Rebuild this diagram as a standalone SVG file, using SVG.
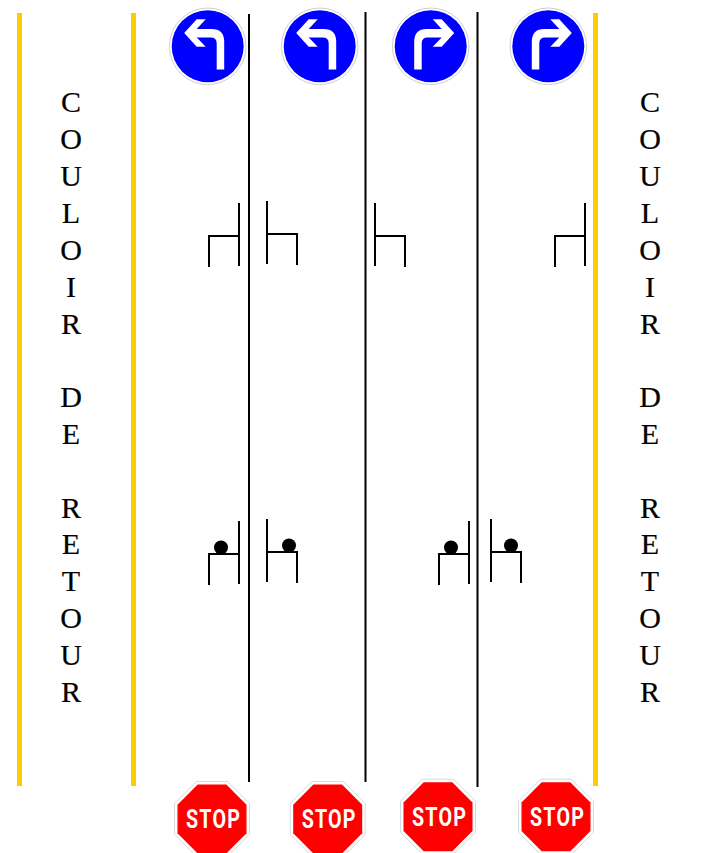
<svg xmlns="http://www.w3.org/2000/svg" xmlns:xlink="http://www.w3.org/1999/xlink" width="701" height="853" viewBox="0 0 701 853">
<style>
.lane{fill:none;stroke:#000;stroke-width:2}
.corridor{fill:#ffcc00}
.chair{fill:none;stroke:#000;stroke-width:2}
.label{font-family:"Liberation Serif","Times New Roman",serif;font-size:30px;fill:#000;text-anchor:middle;stroke:#000;stroke-width:0.2}
.stoptxt{font-family:Roboto,"Liberation Sans",Arial,sans-serif;font-size:25px;font-weight:700;fill:#fff}
</style>
<defs>
<g id="sign-left">
<circle r="38.3" fill="#fff" stroke="#cfcfcf" stroke-width="1"/>
<circle r="36" fill="#0000ff"/>
<path d="M-23.5,-13.3L-11,-27H-2L-11,-17.3H4Q16.5,-17.3 16.5,-4.5V23.3H9V-3Q9,-8.8 3,-8.8H-11L-2,0.4H-11Z" fill="#fff"/>
</g>
<g id="sign-stop">
<polygon points="-15.6,-37.5 15.6,-37.5 37.5,-15.6 37.5,15.6 15.6,37.5 -15.6,37.5 -37.5,15.6 -37.5,-15.6" fill="#fff" stroke="#d4dce0" stroke-width="1"/>
<polygon points="-14.3,-34.5 14.3,-34.5 34.5,-14.3 34.5,14.3 14.3,34.5 -14.3,34.5 -34.5,14.3 -34.5,-14.3" fill="#ff0000"/>
<text class="stoptxt" x="-26" y="9" textLength="55" lengthAdjust="spacingAndGlyphs" letter-spacing="1.5">STOP</text>
</g>
</defs>
<g id="corridor-lines">
<rect class="corridor" x="17" y="13" width="5" height="773"/>
<rect class="corridor" x="131" y="13" width="5" height="773"/>
<rect class="corridor" x="593" y="13" width="5" height="773"/>
</g>
<g id="connectors">
<path class="lane" d="M249,14V782"/>
<path class="lane" d="M365.5,12V782"/>
<path class="lane" d="M477.5,12V787"/>
</g>
<g id="sign-1"><use xlink:href="#sign-left" href="#sign-left" transform="translate(207.7,46.3)"/></g>
<g id="sign-2"><use xlink:href="#sign-left" href="#sign-left" transform="translate(319.7,46.3)"/></g>
<g id="sign-3"><use xlink:href="#sign-left" href="#sign-left" transform="translate(430.7,46.3) scale(-1,1)"/></g>
<g id="sign-4"><use xlink:href="#sign-left" href="#sign-left" transform="translate(548.3,46.3) scale(-1,1)"/></g>
<g id="stop-1"><use xlink:href="#sign-stop" href="#sign-stop" transform="translate(212,819)"/></g>
<g id="stop-2"><use xlink:href="#sign-stop" href="#sign-stop" transform="translate(327.7,819)"/></g>
<g id="stop-3"><use xlink:href="#sign-stop" href="#sign-stop" transform="translate(438,816.7)"/></g>
<g id="stop-4"><use xlink:href="#sign-stop" href="#sign-stop" transform="translate(556,816.7)"/></g>
<g id="chair-1"><path class="chair" d="M239,203V266M239,236H209V267"/></g>
<g id="chair-2"><path class="chair" d="M267,201V264M267,234H297V265"/></g>
<g id="chair-3"><path class="chair" d="M375,203V266M375,236H405V267"/></g>
<g id="chair-4"><path class="chair" d="M585,203V266M585,236H555V267"/></g>
<g id="chair-5"><path class="chair" d="M239,521V584M239,554H209V585"/><circle cx="221" cy="547.5" r="7"/></g>
<g id="chair-6"><path class="chair" d="M267,519V582M267,552H297V583"/><circle cx="289" cy="545.5" r="7"/></g>
<g id="chair-7"><path class="chair" d="M469,521V584M469,554H439V585"/><circle cx="451" cy="547.5" r="7"/></g>
<g id="chair-8"><path class="chair" d="M491,519V582M491,552H521V583"/><circle cx="511" cy="545.5" r="7"/></g>
<g id="label-left">
<text class="label" x="71" y="112">C</text><text class="label" x="71" y="149">O</text><text class="label" x="71" y="186">U</text><text class="label" x="71" y="223">L</text><text class="label" x="71" y="260">O</text><text class="label" x="71" y="297">I</text><text class="label" x="71" y="334">R</text>
<text class="label" x="71" y="407">D</text><text class="label" x="71" y="444">E</text>
<text class="label" x="71" y="518">R</text><text class="label" x="71" y="554">E</text><text class="label" x="71" y="591">T</text><text class="label" x="71" y="628">O</text><text class="label" x="71" y="665">U</text><text class="label" x="71" y="702">R</text>
</g>
<g id="label-right">
<text class="label" x="650" y="112">C</text><text class="label" x="650" y="149">O</text><text class="label" x="650" y="186">U</text><text class="label" x="650" y="223">L</text><text class="label" x="650" y="260">O</text><text class="label" x="650" y="297">I</text><text class="label" x="650" y="334">R</text>
<text class="label" x="650" y="407">D</text><text class="label" x="650" y="444">E</text>
<text class="label" x="650" y="518">R</text><text class="label" x="650" y="554">E</text><text class="label" x="650" y="591">T</text><text class="label" x="650" y="628">O</text><text class="label" x="650" y="665">U</text><text class="label" x="650" y="702">R</text>
</g>
</svg>
